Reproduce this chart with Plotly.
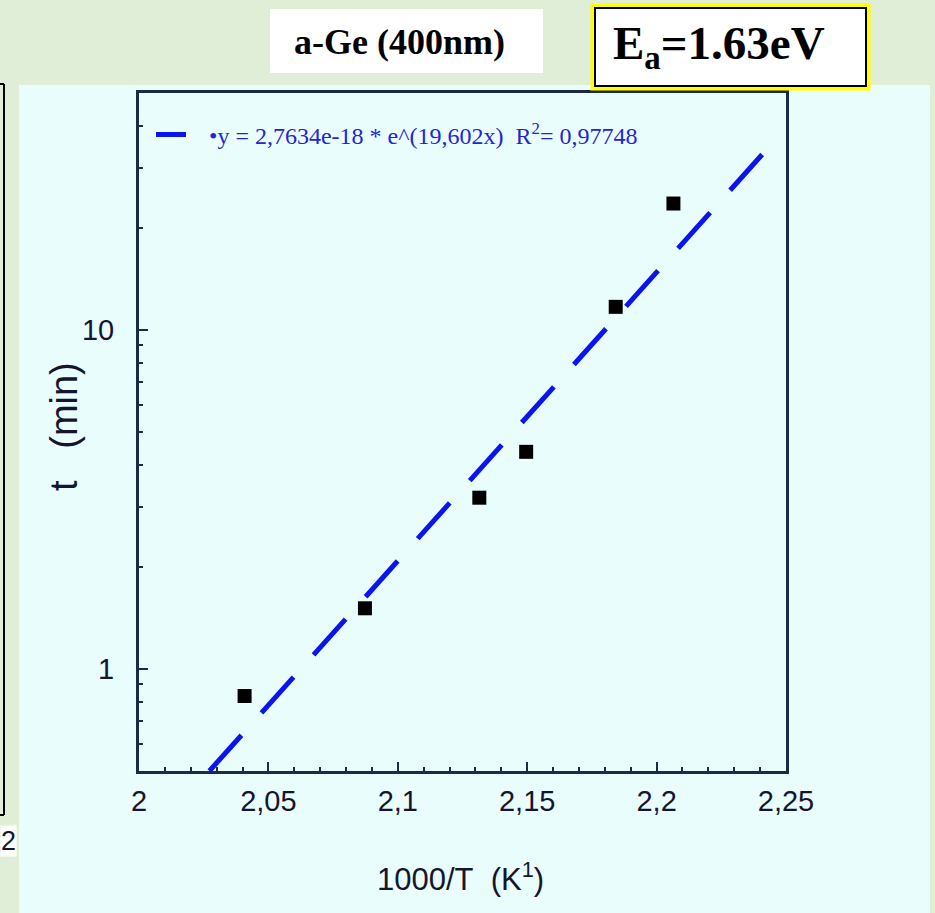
import math
import plotly.graph_objects as go

# ---------------- data ----------------
inv_temp = [2.0408, 2.0873, 2.1315, 2.1496, 2.1842, 2.2065]      # 1000/T (K^-1)
time_min = [0.832, 1.51, 3.20, 4.37, 11.7, 23.6]                 # t (min)

fit_a = 2.7634e-18
fit_b = 19.602
fit_x = [2.0272, 2.2445]
fit_y = [fit_a * math.exp(fit_b * v) for v in fit_x]

x_tickvals = [2, 2.05, 2.1, 2.15, 2.2, 2.25]
x_ticktext = ["2", "2,05", "2,1", "2,15", "2,2", "2,25"]
y_tickvals = [1, 10]
y_ticktext = ["1", "10"]
y_minorvals = [0.6, 0.7, 0.8, 0.9, 2, 3, 4, 5, 6, 7, 8, 9, 20, 30, 40]

legend_label = "\u00a0\u00a0\u00a0\u2022y = 2,7634e-18 * e^(19,602x)\u00a0\u00a0R<sup>2</sup>= 0,97748"
x_title = "1000/T\u00a0\u00a0(K<sup>1</sup>)"
y_title = "t\u00a0\u00a0\u00a0(min)"
sample_label = "a-Ge (400nm)"
energy_label = "E<sub>a</sub>=1.63eV"

# ---------------- layout geometry ----------------
W, H = 935, 913
L, R, T, B = 139, 149, 93, 142
PW, PH = W - L - R, H - T - B


def px(x):
    return (x - L) / PW


def py(y):
    return (H - B - y) / PH


AXIS = "#1c2a48"
TXT = "#15152e"
GREEN = "#e0eed8"
CYAN = "#eafdfd"
SANS = "Liberation Sans, Arial, sans-serif"
SERIF = "Liberation Serif, Times New Roman, serif"

fig = go.Figure()

fig.add_trace(go.Scatter(
    x=fit_x, y=fit_y, mode="lines", name=legend_label,
    line=dict(color="#0a14f0", width=5, dash="48px,30px"),
    showlegend=True, hoverinfo="skip",
))
fig.add_trace(go.Scatter(
    x=inv_temp, y=time_min, mode="markers",
    marker=dict(symbol="square", size=14, color="#000000"),
    showlegend=False,
))

shapes = [
    # light cyan panel
    dict(type="rect", xref="paper", yref="paper", layer="below",
         x0=px(19), x1=px(930), y0=py(913), y1=py(85),
         fillcolor=CYAN, line=dict(width=0)),
    # fragment of neighbouring frame at the far left
    dict(type="line", xref="paper", yref="paper", x0=px(0), x1=px(4), y0=py(84), y1=py(84),
         line=dict(color="#000000", width=2)),
    dict(type="line", xref="paper", yref="paper", x0=px(4), x1=px(4), y0=py(84), y1=py(815),
         line=dict(color="#000000", width=2)),
    dict(type="line", xref="paper", yref="paper", x0=px(0), x1=px(4), y0=py(815), y1=py(815),
         line=dict(color="#000000", width=2)),
    # sample label box
    dict(type="rect", xref="paper", yref="paper",
         x0=px(270), x1=px(543), y0=py(73), y1=py(9),
         fillcolor="#ffffff", line=dict(width=0)),
    # activation energy box (yellow glow + black frame)
    dict(type="rect", xref="paper", yref="paper",
         x0=px(593), x1=px(868), y0=py(88), y1=py(6),
         fillcolor="#ffffff", line=dict(color="#ffff00", width=5)),
    dict(type="rect", xref="paper", yref="paper",
         x0=px(595), x1=px(866), y0=py(86), y1=py(8),
         fillcolor="#ffffff", line=dict(color="#000000", width=2)),
]

annotations = [
    dict(text=sample_label, xref="paper", yref="paper", x=px(399), y=py(42),
         xanchor="center", yanchor="middle", showarrow=False,
         font=dict(family=SERIF, size=36, color="#000000", weight="bold")),
    dict(text=energy_label, xref="paper", yref="paper", x=px(719), y=py(46),
         xanchor="center", yanchor="middle", showarrow=False,
         font=dict(family=SERIF, size=47, color="#000000", weight="bold")),
    dict(text=x_title, xref="paper", yref="paper", x=px(460), y=py(877),
         xanchor="center", yanchor="middle", showarrow=False,
         font=dict(family=SANS, size=31, color=TXT)),
    dict(text=y_title, xref="paper", yref="paper", x=px(64), y=py(427),
         xanchor="center", yanchor="middle", showarrow=False, textangle=-90,
         font=dict(family=SANS, size=38, color=TXT)),
    dict(text="2", xref="paper", yref="paper", x=px(0), y=py(841),
         xanchor="left", yanchor="middle", showarrow=False, bgcolor="#ffffff",
         borderpad=0, font=dict(family=SANS, size=27, color=TXT)),
]

fig.update_layout(
    width=W, height=H,
    margin=dict(l=L, r=R, t=T, b=B, autoexpand=False),
    paper_bgcolor=GREEN, plot_bgcolor=CYAN,
    shapes=shapes, annotations=annotations,
    showlegend=True,
    legend=dict(x=px(151), y=py(135), xanchor="left", yanchor="middle",
                bgcolor="rgba(0,0,0,0)", borderwidth=0, itemwidth=30,
                font=dict(family=SERIF, size=24, color="#2424d4")),
    xaxis=dict(
        range=[2, 2.25], showgrid=False, zeroline=False,
        showline=True, linecolor=AXIS, linewidth=3, mirror=True,
        tickmode="array", tickvals=x_tickvals, ticktext=x_ticktext,
        ticks="inside", ticklen=9, tickwidth=2, tickcolor=AXIS,
        minor=dict(tickmode="linear", tick0=2, dtick=0.01, ticks="inside",
                   ticklen=4, tickwidth=2, tickcolor=AXIS, showgrid=False),
        tickfont=dict(family=SANS, size=29, color=TXT),
        ticklabelstandoff=2,
    ),
    yaxis=dict(
        type="log", range=[math.log10(0.5), math.log10(50)],
        showgrid=False, zeroline=False,
        showline=True, linecolor=AXIS, linewidth=3, mirror=True,
        tickmode="array", tickvals=y_tickvals, ticktext=y_ticktext,
        ticks="inside", ticklen=9, tickwidth=2, tickcolor=AXIS,
        minor=dict(tickmode="array", tickvals=y_minorvals, ticks="inside",
                   ticklen=4, tickwidth=2, tickcolor=AXIS, showgrid=False),
        tickfont=dict(family=SANS, size=29, color=TXT),
        ticklabelstandoff=16,
    ),
)

fig.write_html("out.html")
